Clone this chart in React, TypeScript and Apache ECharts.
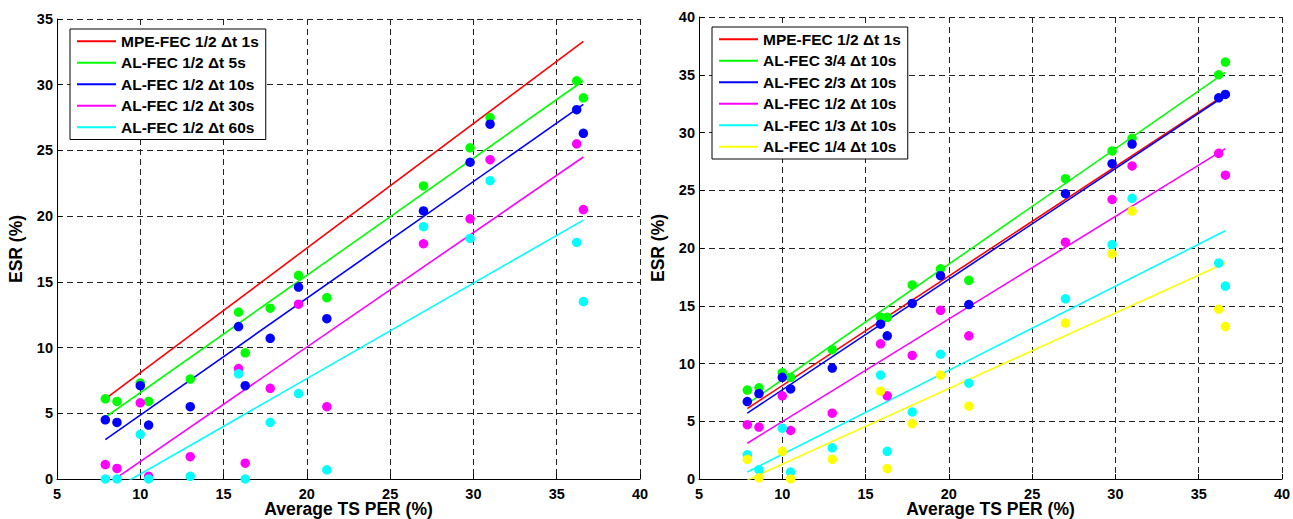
import React, { useEffect, useRef } from "react";
import * as echarts from "echarts";

// Shared x positions (Average TS PER %) of the measured points
const perX = [7.9, 8.6, 10.0, 10.5, 13.0, 15.9, 16.3, 17.8, 19.5, 21.2, 27.0, 29.8, 31.0, 36.2, 36.6];

// Left panel: code rate 1/2, different time spreads
const leftNames = [
  "MPE-FEC 1/2 \u0394t 1s",
  "AL-FEC 1/2 \u0394t 5s",
  "AL-FEC 1/2 \u0394t 10s",
  "AL-FEC 1/2 \u0394t 30s",
  "AL-FEC 1/2 \u0394t 60s",
];
const leftGreen5s = [6.1, 5.9, 7.3, 5.9, 7.6, 12.7, 9.6, 13.0, 15.5, 13.8, 22.3, 25.2, 27.5, 30.3, 29.0];
const leftBlue10s = [4.5, 4.3, 7.1, 4.1, 5.5, 11.6, 7.1, 10.7, 14.6, 12.2, 20.4, 24.1, 27.0, 28.1, 26.3];
const leftMag30s = [1.1, 0.8, 5.8, 0.2, 1.7, 8.4, 1.2, 6.9, 13.3, 5.5, 17.9, 19.8, 24.3, 25.5, 20.5];
const leftCyan60s = [0, 0, 3.4, 0, 0.2, 8.0, 0, 4.3, 6.5, 0.7, 19.2, 18.3, 22.7, 18.0, 13.5];

// Left panel fitted lines: [x0, y0, x1, y1]
const leftFitRed = [7.9, 6.1, 36.6, 33.3];
const leftFitGreen = [7.9, 4.7, 36.6, 30.3];
const leftFitBlue = [7.9, 3.0, 36.6, 28.5];
const leftFitMag = [7.9, -0.5, 36.6, 24.5];
const leftFitCyan = [7.9, -1.15, 36.6, 19.7];

// Right panel: time spread 10s, different code rates
const rightNames = [
  "MPE-FEC 1/2 \u0394t 1s",
  "AL-FEC 3/4 \u0394t 10s",
  "AL-FEC 2/3 \u0394t 10s",
  "AL-FEC 1/2 \u0394t 10s",
  "AL-FEC 1/3 \u0394t 10s",
  "AL-FEC 1/4 \u0394t 10s",
];
const rightGreen34 = [7.7, 7.9, 9.2, 8.8, 11.2, 14.0, 14.0, 16.8, 18.2, 17.2, 26.0, 28.4, 29.5, 35.0, 36.1];
const rightBlue23 = [6.7, 7.4, 8.8, 7.8, 9.6, 13.4, 12.4, 15.2, 17.6, 15.1, 24.7, 27.3, 29.0, 33.0, 33.3];
const rightMag12 = [4.7, 4.5, 7.2, 4.2, 5.7, 11.7, 7.2, 10.7, 14.6, 12.4, 20.5, 24.2, 27.1, 28.2, 26.3];
const rightCyan13 = [2.1, 0.8, 4.4, 0.6, 2.7, 9.0, 2.4, 5.8, 10.8, 8.3, 15.6, 20.3, 24.3, 18.7, 16.7];
const rightYellow14 = [1.7, 0.1, 2.4, 0.0, 1.7, 7.6, 0.9, 4.8, 9.0, 6.3, 13.5, 19.5, 23.2, 14.7, 13.2];

const rightFitRed = [7.9, 6.1, 36.6, 33.3];
const rightFitGreen = [7.9, 6.5, 36.6, 35.2];
const rightFitBlue = [7.9, 5.7, 36.6, 33.2];
const rightFitMag = [7.9, 3.1, 36.6, 28.6];
const rightFitCyan = [7.9, 0.6, 36.6, 21.5];
const rightFitYellow = [7.9, -0.1, 36.6, 18.7];

const xTicks = { min: 5, max: 40, interval: 5 };
const leftYTicks = { min: 0, max: 35, interval: 5 };
const rightYTicks = { min: 0, max: 40, interval: 5 };

const RED = "#ff0000";
const GREEN = "#00ff00";
const BLUE = "#0000ff";
const MAGENTA = "#ff00ff";
const CYAN = "#00ffff";
const YELLOW = "#ffff00";

const FONT = "Arial, 'Liberation Sans', Helvetica, sans-serif";

export default function App() {
  const ref = useRef<HTMLDivElement>(null);

  useEffect(() => {
    if (!ref.current) return;
    const chart = echarts.init(ref.current, undefined, { renderer: "svg" });

    const labelMap: Record<string, string> = {};
    leftNames.forEach((n, i) => (labelMap["L" + i] = n));
    rightNames.forEach((n, i) => (labelMap["R" + i] = n));

    const fitSeries = (id: string, fit: number[], color: string, idx: number) => ({
      name: id,
      type: "line",
      xAxisIndex: idx,
      yAxisIndex: idx,
      data: [
        [fit[0], fit[1]],
        [fit[2], fit[3]],
      ],
      symbol: "none",
      clip: true,
      lineStyle: { color, width: 1.6 },
      itemStyle: { color },
      z: 2,
    });
    const ptSeries = (id: string, ys: number[], color: string, idx: number) => ({
      name: id,
      type: "scatter",
      xAxisIndex: idx,
      yAxisIndex: idx,
      data: perX.map((x, i) => [x, ys[i]]),
      symbol: "circle",
      symbolSize: 9.5,
      clip: false,
      itemStyle: { color, opacity: 1 },
      z: 3,
    });

    const axisCommon = {
      axisLine: { show: true, onZero: false, lineStyle: { color: "#000", width: 1 } },
      axisTick: { show: true, inside: true, length: 5, lineStyle: { color: "#000" } },
      splitLine: { show: true, lineStyle: { color: "#222", width: 1, type: [6, 4] } },
      nameTextStyle: { fontFamily: FONT, fontWeight: "bold", color: "#000" },
      nameMoveOverlap: false,
    };

    const legendCommon = {
      orient: "vertical",
      icon: "rect",
      itemWidth: 39,
      itemHeight: 2,
      itemGap: 5,
      padding: [4, 7, 4, 7],
      backgroundColor: "#fff",
      borderColor: "#000",
      borderWidth: 1,
      borderRadius: 0,
      selectedMode: false,
      formatter: (n: string) => labelMap[n],
      textStyle: {
        fontFamily: FONT,
        fontWeight: "bold",
        fontSize: 15.5,
        lineHeight: 16.5,
        color: "#000",
      },
    };

    chart.setOption({
      animation: false,
      backgroundColor: "#fff",
      grid: [
        { left: 57, top: 19, width: 583, height: 460, containLabel: false, outerBoundsMode: "none" },
        { left: 699, top: 17, width: 583, height: 462, containLabel: false, outerBoundsMode: "none" },
      ],
      xAxis: [0, 1].map((i) => ({
        type: "value",
        gridIndex: i,
        ...xTicks,
        ...axisCommon,
        name: "Average TS PER (%)",
        nameLocation: "middle",
        nameGap: 21,
        nameTextStyle: { ...axisCommon.nameTextStyle, fontSize: 17.5 },
        axisLabel: { fontFamily: FONT, fontWeight: "bold", fontSize: 14.5, color: "#000", margin: 7 },
      })),
      yAxis: [leftYTicks, rightYTicks].map((t, i) => ({
        type: "value",
        gridIndex: i,
        ...t,
        ...axisCommon,
        name: "ESR (%)",
        nameLocation: "middle",
        nameGap: 32,
        nameTextStyle: { ...axisCommon.nameTextStyle, fontSize: 17.5 },
        axisLabel: { fontFamily: FONT, fontWeight: "bold", fontSize: 14.5, color: "#000", margin: 4 },
      })),
      legend: [
        { ...legendCommon, left: 70, top: 29, data: ["L0", "L1", "L2", "L3", "L4"] },
        { ...legendCommon, left: 712, top: 27, data: ["R0", "R1", "R2", "R3", "R4", "R5"] },
      ],
      series: [
        fitSeries("L0", leftFitRed, RED, 0),
        fitSeries("L1", leftFitGreen, GREEN, 0),
        fitSeries("L2", leftFitBlue, BLUE, 0),
        fitSeries("L3", leftFitMag, MAGENTA, 0),
        fitSeries("L4", leftFitCyan, CYAN, 0),
        ptSeries("pL1", leftGreen5s, GREEN, 0),
        ptSeries("pL2", leftBlue10s, BLUE, 0),
        ptSeries("pL3", leftMag30s, MAGENTA, 0),
        ptSeries("pL4", leftCyan60s, CYAN, 0),
        fitSeries("R0", rightFitRed, RED, 1),
        fitSeries("R1", rightFitGreen, GREEN, 1),
        fitSeries("R2", rightFitBlue, BLUE, 1),
        fitSeries("R3", rightFitMag, MAGENTA, 1),
        fitSeries("R4", rightFitCyan, CYAN, 1),
        fitSeries("R5", rightFitYellow, YELLOW, 1),
        ptSeries("pR1", rightGreen34, GREEN, 1),
        ptSeries("pR2", rightBlue23, BLUE, 1),
        ptSeries("pR3", rightMag12, MAGENTA, 1),
        ptSeries("pR4", rightCyan13, CYAN, 1),
        ptSeries("pR5", rightYellow14, YELLOW, 1),
      ],
    });

    return () => chart.dispose();
  }, []);

  return (
    <div
      ref={ref}
      style={{ position: "absolute", left: 0, top: 0, width: 1293, height: 519, background: "#fff" }}
    />
  );
}
